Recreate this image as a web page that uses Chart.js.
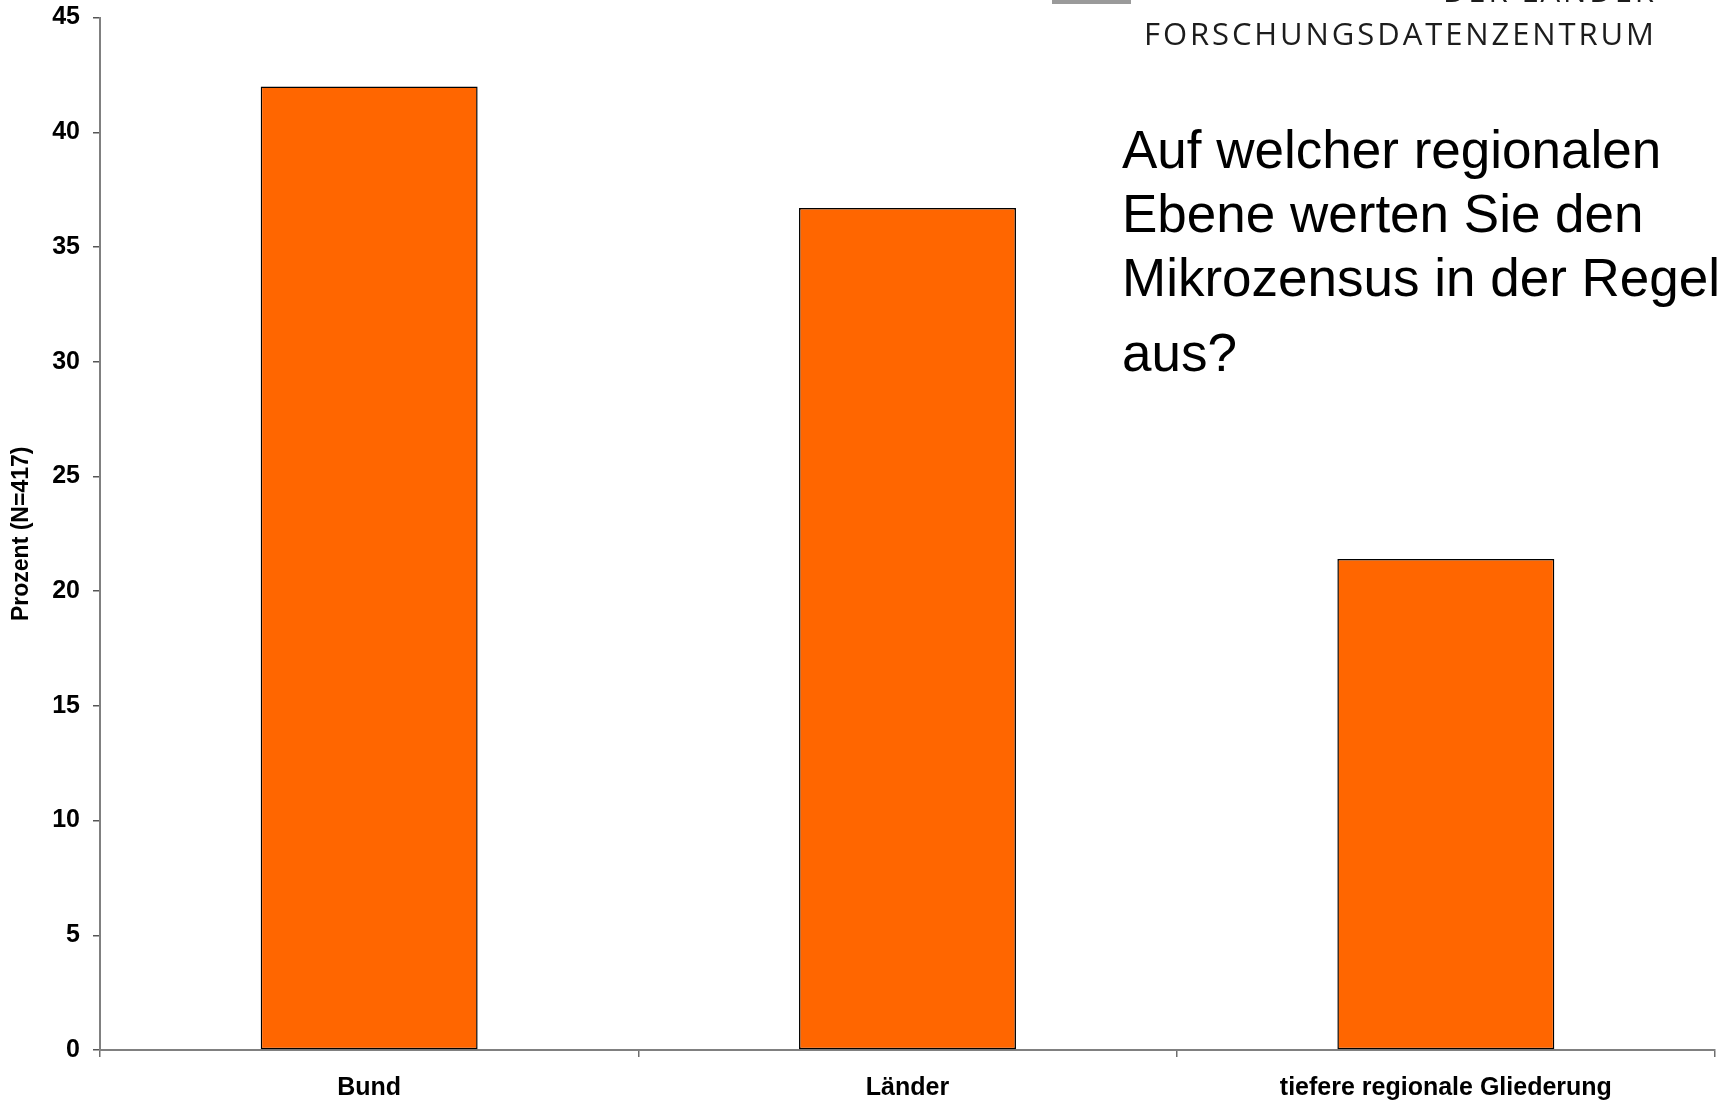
<!DOCTYPE html>
<html lang="de">
<head>
<meta charset="utf-8">
<title>Regionale Ebene – Mikrozensus</title>
<script src="https://cdn.jsdelivr.net/npm/chart.js@4.4.1/dist/chart.umd.min.js"></script>
<style>
  html, body { margin: 0; padding: 0; background: #fff; }
  #stage { position: relative; width: 1727px; height: 1103px; overflow: hidden; }
  #chartLevels { position: absolute; left: 0; top: 0; }
  .logo-bar { position: absolute; left: 1052px; top: 0; width: 79px; height: 4px; background: #9a9a9a; }
  .logo-line { position: absolute; font-family: "Open Sans", sans-serif; font-size: 31px; font-weight: 500;
               color: #1c1c1c; white-space: nowrap; line-height: 1; }
  .question { position: absolute; left: 1122px; font-family: "Liberation Sans", Arial, sans-serif;
              font-size: 53px; line-height: 64px; color: #000; white-space: nowrap; }
</style>
</head>
<body>
<div id="stage">
  <canvas id="chartLevels" width="1727" height="1103"></canvas>
  <div class="logo-bar"></div>
  <div class="logo-line" id="logoTop" style="top:-25px">DER LÄNDER</div>
  <div class="logo-line" id="logoMain" style="top:17.5px">FORSCHUNGSDATENZENTRUM</div>
  <div class="question" style="top:118px">Auf welcher regionalen<br>Ebene werten Sie den<br>Mikrozensus in der Regel</div>
  <div class="question" style="top:321px">aus?</div>
</div>
<script>
  // Anteil der Befragten je regionaler Auswertungsebene
  const categories = ['Bund', 'Länder', 'tiefere regionale Gliederung'];
  const percentValues = [42.0, 36.7, 21.4];
  const yTicks = [0, 5, 10, 15, 20, 25, 30, 35, 40, 45];

  const orange = '#FF6600';
  const axisGray = '#808080';
  const labelFont = { family: '"Liberation Sans", Arial, sans-serif', size: 25, weight: 'bold' };

  // Schriftzug oben rechts: Sperrung so wählen, dass er von 1144 bis 1654 reicht
  (function spaceLogo() {
    const main = document.getElementById('logoMain');
    const top = document.getElementById('logoTop');
    const left = 1144, right = 1654;
    const txt = main.textContent;
    const natural = main.getBoundingClientRect().width;
    const spacing = (right - left - natural) / (txt.length - 1);
    main.style.letterSpacing = spacing + 'px';
    main.style.left = left + 'px';
    top.style.letterSpacing = spacing + 'px';
    top.style.left = (right + spacing - top.getBoundingClientRect().width) + 'px';
  })();

  new Chart(document.getElementById('chartLevels'), {
    type: 'bar',
    data: {
      labels: categories,
      datasets: [{
        label: 'Prozent',
        data: percentValues,
        backgroundColor: orange,
        borderColor: '#000',
        borderWidth: 1.5,
        borderSkipped: false,
        barPercentage: 0.403,
        categoryPercentage: 1,
      }],
    },
    options: {
      responsive: false,
      animation: false,
      devicePixelRatio: 1,
      layout: { padding: { top: 17.6, right: 12, left: 0, bottom: 0 } },
      plugins: { legend: { display: false }, tooltip: { enabled: false } },
      scales: {
        x: {
          grid: { offset: true, drawOnChartArea: false, tickLength: 7, color: '#6e6e6e', lineWidth: 1.5 },
          border: { color: axisGray, width: 2 },
          ticks: { color: '#000', font: labelFont, padding: 16, maxRotation: 0 },
          afterFit: function (scale) { scale.height = 53; },
        },
        y: {
          min: 0,
          max: yTicks[yTicks.length - 1],
          afterBuildTicks: function (scale) { scale.ticks = yTicks.map(v => ({ value: v })); },
          grid: { drawOnChartArea: false, tickLength: 7, color: '#555', lineWidth: 1.5 },
          border: { color: axisGray, width: 2 },
          ticks: { color: '#000', font: labelFont, padding: 13 },
          title: {
            display: true,
            text: 'Prozent (N=417)',
            color: '#000',
            font: { family: '"Liberation Sans", Arial, sans-serif', size: 23, weight: 'bold' },
            padding: { top: 8, bottom: 0 },
          },
          afterFit: function (scale) {
            scale.width = 100;
            scale.paddingTop = 0;
            scale.paddingBottom = 0;
          },
        },
      },
    },
  });
</script>
</body>
</html>
